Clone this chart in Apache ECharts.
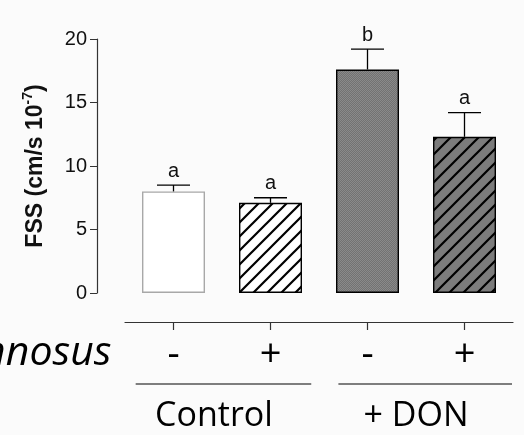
<!DOCTYPE html>
<html>
<head>
<meta charset="utf-8">
<script src="https://cdn.jsdelivr.net/npm/echarts@6/dist/echarts.min.js"></script>
<style>
html,body{margin:0;padding:0;background:#fbfbfb;}
#c{width:524px;height:435px;}
</style>
</head>
<body>
<div id="c"></div>
<script>
const categories = ['-', '+', '-', '+'];
const groups = ['Control', '+ DON'];
const fss = [8.0, 7.1, 17.6, 12.3];
const sem = [0.5, 0.4, 1.6, 1.9];
const letters = ['a', 'a', 'b', 'a'];
const factorName = 'L. rhamnosus';
const yMin = 0, yMax = 20, yStep = 5;

function hatch(bg) {
  const c = document.createElement('canvas');
  c.width = c.height = 14;
  const g = c.getContext('2d');
  g.fillStyle = bg; g.fillRect(0, 0, 14, 14);
  g.strokeStyle = '#000'; g.lineWidth = 2.2;
  g.beginPath();
  g.moveTo(-7, 7); g.lineTo(7, -7);
  g.moveTo(0, 14); g.lineTo(14, 0);
  g.moveTo(7, 21); g.lineTo(21, 7);
  g.stroke();
  return c;
}
function checker() {
  const c = document.createElement('canvas');
  c.width = c.height = 2;
  const g = c.getContext('2d');
  g.fillStyle = '#727272'; g.fillRect(0, 0, 2, 2);
  g.fillStyle = '#8a8a8a'; g.fillRect(0, 0, 1, 1); g.fillRect(1, 1, 1, 1);
  return c;
}
const fills = [
  '#ffffff',
  { image: hatch('#ffffff'), repeat: 'repeat' },
  { image: checker(), repeat: 'repeat' },
  { image: hatch('#7c7c7c'), repeat: 'repeat' }
];
const borders = ['#a8a8a8', '#000', '#000', '#000'];

const chart = echarts.init(document.getElementById('c'));
const font = 'Liberation Sans';
chart.setOption({
  backgroundColor: '#fbfbfb',
  animation: false,
  grid: { left: 125, right: 11, top: 39, bottom: 142 },
  xAxis: [{
    type: 'category', data: categories, position: 'bottom', offset: 29,
    axisLine: { show: true, onZero: false, lineStyle: { color: '#333', width: 1.2 } },
    axisTick: { show: true, inside: false, alignWithLabel: true, interval: 0, length: 8, lineStyle: { color: '#333', width: 1.2 } },
    axisLabel: { interval: 0, fontFamily: 'Open Sans', fontSize: 38, color: '#000', margin: 14 }
  }, {
    type: 'category', data: groups, position: 'bottom', offset: 100,
    axisLine: { show: false, onZero: false }, axisTick: { show: false },
    axisLabel: {
      interval: 0, hideOverlap: false,
      fontFamily: 'Open Sans', fontSize: 34, color: '#000', margin: 6,
      formatter: (v, i) => i === 0 ? '{c|' + v + '}' : '{d|' + v + '}',
      rich: {
        c: { fontFamily: 'Open Sans', fontSize: 34, color: '#000', padding: [0, 16, 0, 0] },
        d: { fontFamily: 'Open Sans', fontSize: 34, color: '#000' }
      }
    }
  }],
  yAxis: {
    type: 'value', min: yMin, max: yMax, interval: yStep, offset: 28,
    axisLine: { show: true, lineStyle: { color: '#333', width: 1.2 } },
    axisTick: { show: true, length: 7, lineStyle: { color: '#333' } },
    splitLine: { show: false },
    axisLabel: { fontFamily: font, fontSize: 20, color: '#111', margin: 10 },
    name: '{m|FSS (cm/s 10}{s|-7}{m|)}',
    nameLocation: 'middle', nameGap: 50, nameRotate: 90,
    nameTextStyle: {
      rich: {
        m: { fontFamily: font, fontWeight: 'bold', fontSize: 23, color: '#111', lineHeight: 26, verticalAlign: 'bottom' },
        s: { fontFamily: font, fontWeight: 'bold', fontSize: 14, color: '#111', lineHeight: 26, verticalAlign: 'top' }
      }
    }
  },
  series: [{
    type: 'bar', barWidth: 63,
    data: fss.map((v, i) => ({ value: v, itemStyle: { color: fills[i], borderColor: borders[i], borderWidth: 1.4 } }))
  }, {
    type: 'custom', z: 5,
    data: fss.map((v, i) => [i, v, sem[i]]),
    renderItem: function (params, api) {
      const i = api.value(0), v = api.value(1), e = api.value(2);
      const p0 = api.coord([i, v]), p1 = api.coord([i, v + e]);
      const hw = 16.5;
      const st = { stroke: '#000', lineWidth: 1.3 };
      return { type: 'group', children: [
        { type: 'line', shape: { x1: p0[0], y1: p0[1], x2: p1[0], y2: p1[1] }, style: st },
        { type: 'line', shape: { x1: p1[0] - hw, y1: p1[1], x2: p1[0] + hw, y2: p1[1] }, style: st },
        { type: 'text', style: { text: letters[i], x: p1[0], y: p1[1] - 4, align: 'center', verticalAlign: 'bottom', font: '20px "Liberation Sans"', fill: '#111' } }
      ] };
    }
  }]
});

const c0 = chart.convertToPixel({ xAxisIndex: 0 }, 0);
const c1 = chart.convertToPixel({ xAxisIndex: 0 }, 1);
const c2 = chart.convertToPixel({ xAxisIndex: 0 }, 2);
const c3 = chart.convertToPixel({ xAxisIndex: 0 }, 3);
const w = c1 - c0;
const y0 = chart.convertToPixel({ yAxisIndex: 0 }, 0);
const lineY = y0 + 91;
chart.setOption({
  graphic: [
    { type: 'line', shape: { x1: c0 - 0.39 * w, y1: lineY, x2: c1 + 0.42 * w, y2: lineY }, style: { stroke: '#555', lineWidth: 1.6 } },
    { type: 'line', shape: { x1: c2 - 0.30 * w, y1: lineY, x2: c3 + 0.49 * w, y2: lineY }, style: { stroke: '#555', lineWidth: 1.6 } },
    { type: 'text', x: c0 - 62, y: y0 + 60, style: { text: factorName, align: 'right', verticalAlign: 'middle', font: 'italic 41px "Open Sans"', fill: '#000' } }
  ]
});
</script>
</body>
</html>
